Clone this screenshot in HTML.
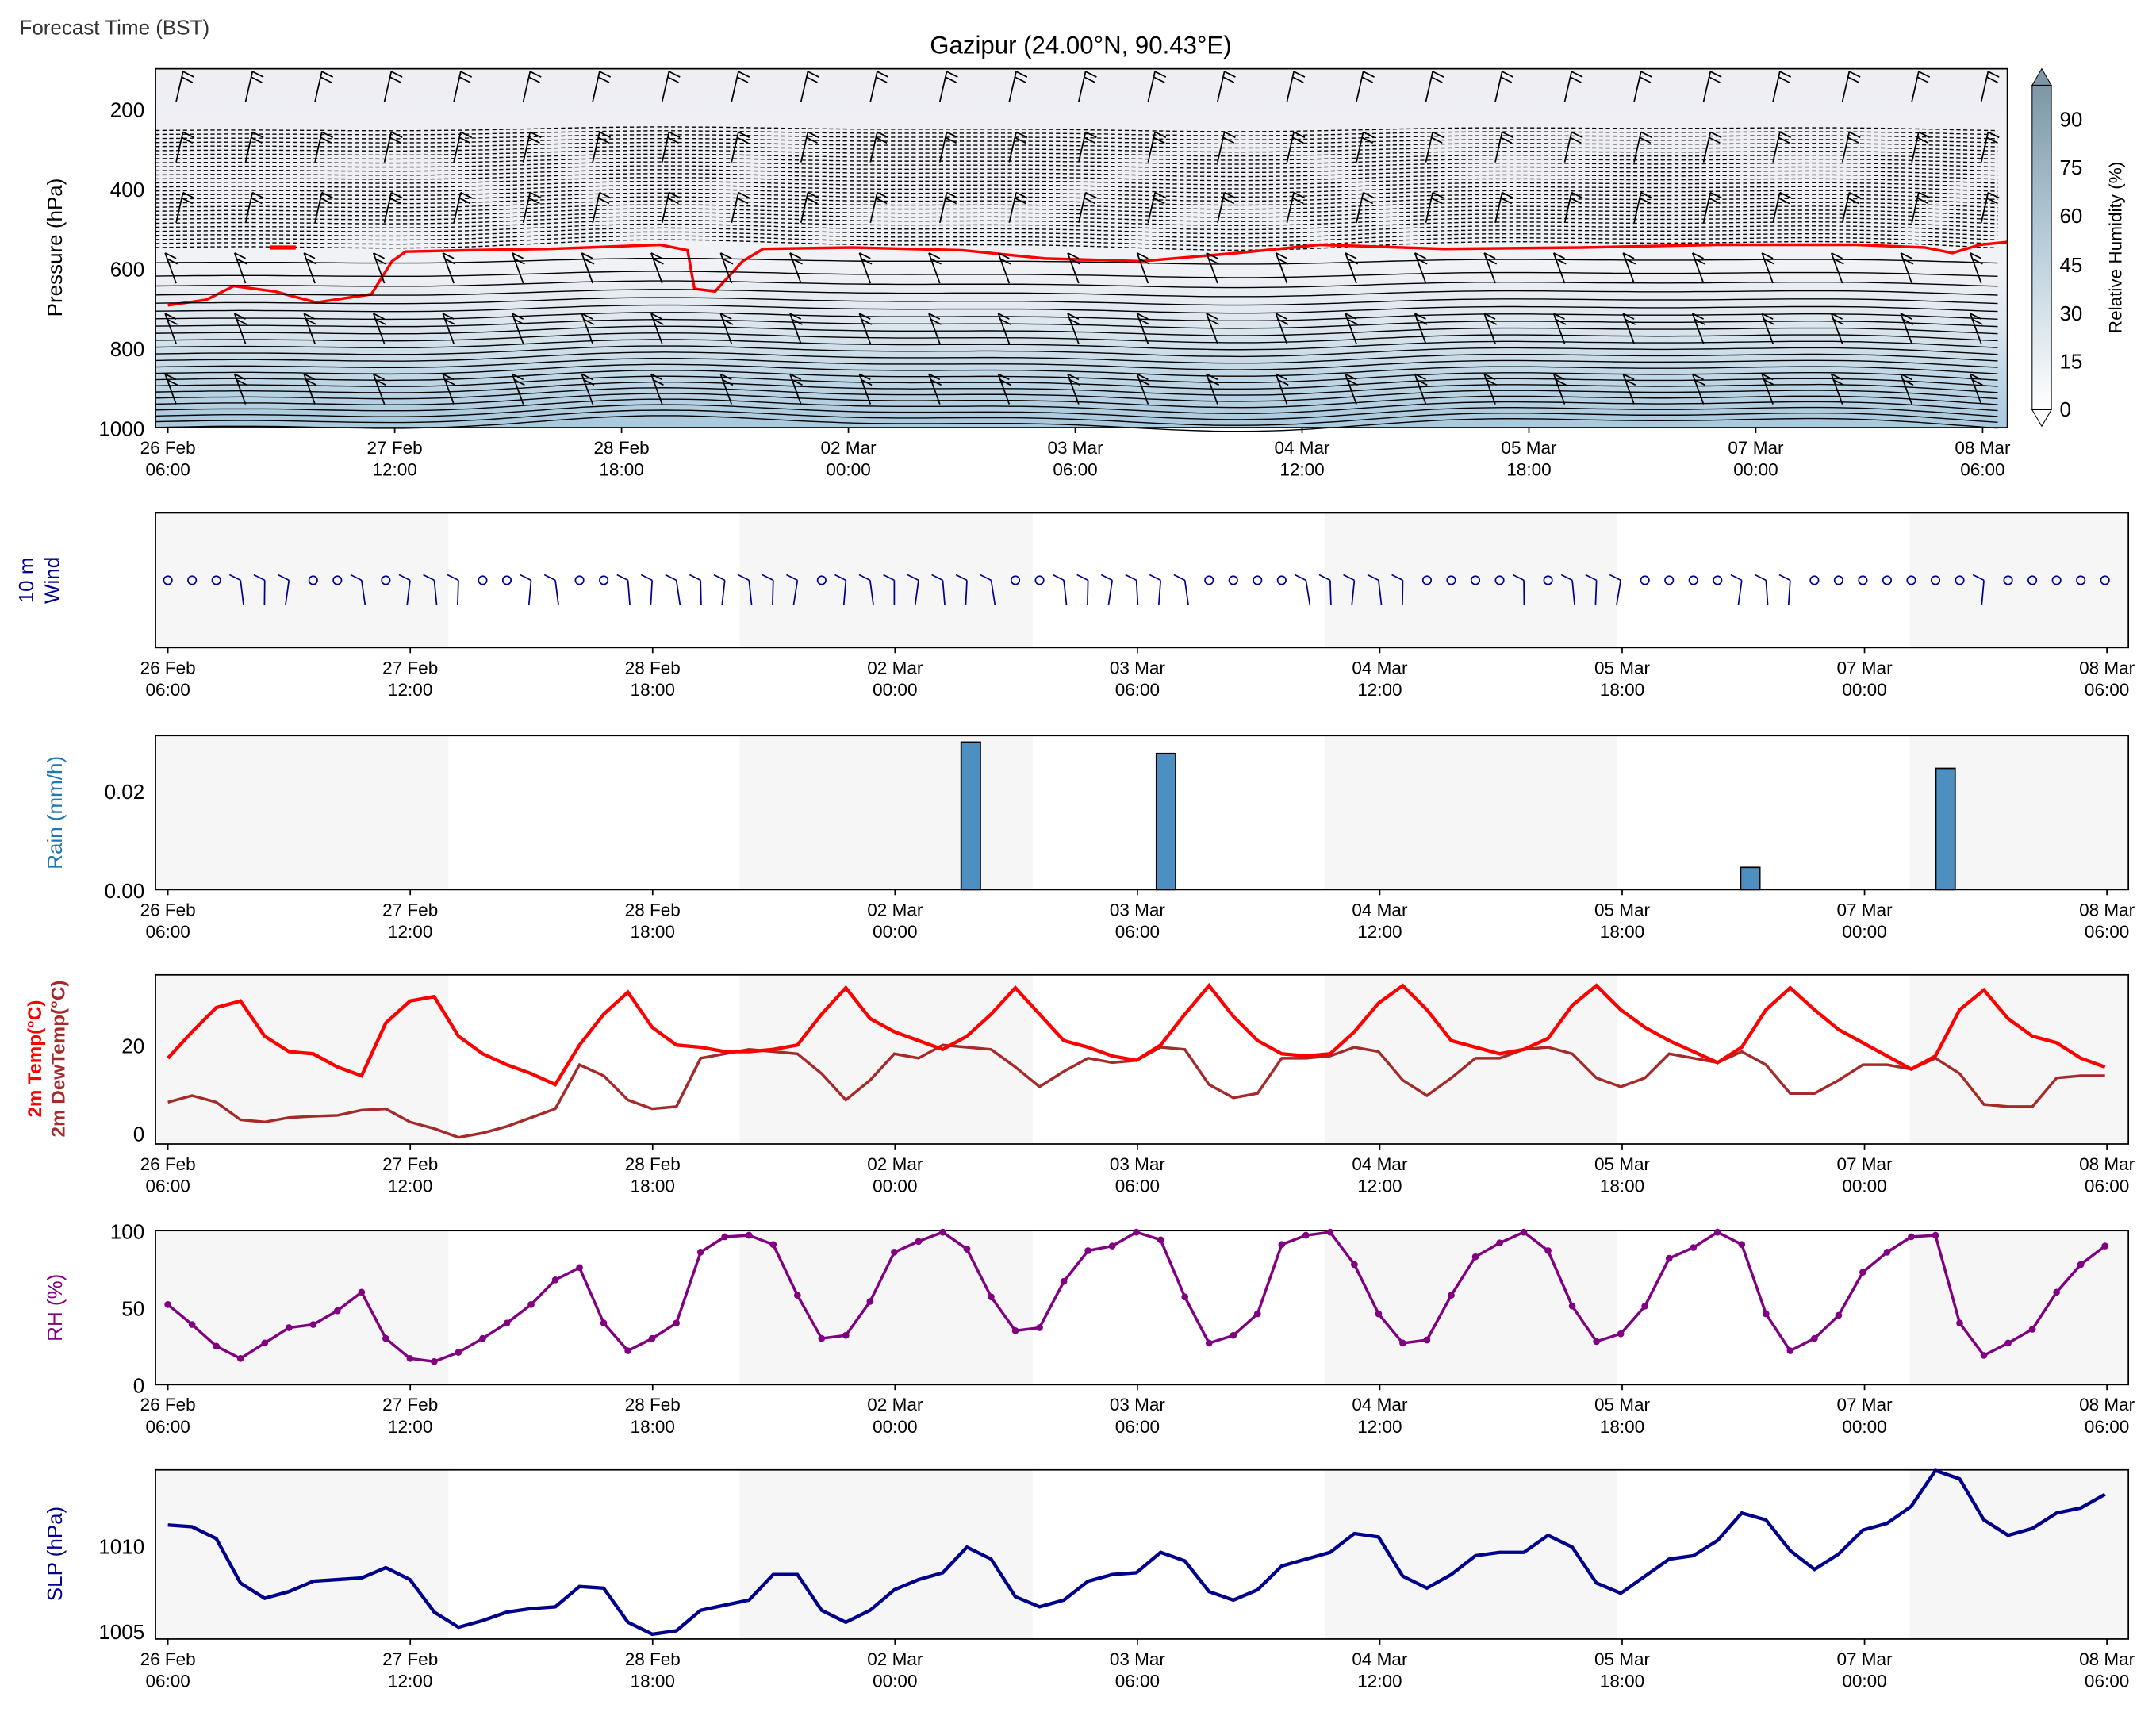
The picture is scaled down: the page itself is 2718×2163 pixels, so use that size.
<!DOCTYPE html>
<html><head><meta charset="utf-8"><style>
html,body{margin:0;padding:0;background:#fff}
svg{display:block}
text{font-family:"Liberation Sans","DejaVu Sans",sans-serif}
</style></head><body>
<svg id="s" width="2718" height="2163" viewBox="0 0 1568 1248" xmlns="http://www.w3.org/2000/svg">
<defs>
<linearGradient id="cb" x1="0" y1="1" x2="0" y2="0"><stop offset="0" stop-color="#ffffff"/><stop offset="0.5" stop-color="#b9cfdc"/><stop offset="1" stop-color="#7d97a8"/></linearGradient>
<linearGradient id="bg1" x1="0" y1="0" x2="0" y2="1"><stop offset="0" stop-color="#eeeef3"/><stop offset="0.55" stop-color="#f1f2f6"/><stop offset="0.7" stop-color="#dfe8ef"/><stop offset="0.85" stop-color="#c2d8e6"/><stop offset="1" stop-color="#a9c9de"/></linearGradient>
</defs>
<text x="14" y="25" font-size="15" fill="#333">Forecast Time (BST)</text>
<text x="786" y="39" font-size="18" text-anchor="middle">Gazipur (24.00°N, 90.43°E)</text>
<rect x="113" y="50" width="1347" height="261" fill="url(#bg1)"/>
<g id="topg"></g>
<rect x="113" y="50" width="1347" height="261" fill="none" stroke="#000"/>
<g font-size="15" text-anchor="end">
<text x="105" y="85">200</text><text x="105" y="143">400</text><text x="105" y="201">600</text><text x="105" y="259">800</text><text x="105" y="317">1000</text>
</g>
<text transform="translate(45,180) rotate(-90)" font-size="15" text-anchor="middle">Pressure (hPa)</text>
<rect x="1478" y="62" width="14" height="236" fill="url(#cb)" stroke="#000" stroke-width="0.6"/>
<path d="M1478,62 L1485,50 L1492,62 Z" fill="#7d97a8" stroke="#000" stroke-width="0.6"/>
<path d="M1478,298 L1485,310 L1492,298 Z" fill="#fff" stroke="#000" stroke-width="0.6"/>
<g font-size="15">
<text x="1498" y="303">0</text><text x="1498" y="268">15</text><text x="1498" y="233">30</text><text x="1498" y="198">45</text><text x="1498" y="162">60</text><text x="1498" y="127">75</text><text x="1498" y="92">90</text>
</g>
<text transform="translate(1543,180) rotate(-90)" font-size="13" text-anchor="middle">Relative Humidity (%)</text>
<g id="xt1" font-size="13" text-anchor="middle"></g>

<g id="panels"></g>
<g font-size="15" text-anchor="end">
<text x="105" y="581">0.02</text><text x="105" y="653">0.00</text>
<text x="105" y="766">20</text><text x="105" y="830">0</text>
<text x="105" y="901">100</text><text x="105" y="957">50</text><text x="105" y="1013">0</text>
<text x="105" y="1130">1010</text><text x="105" y="1192">1005</text>
</g>
<text transform="translate(24,422) rotate(-90)" font-size="15" text-anchor="middle" fill="#00008b">10 m</text>
<text transform="translate(43,422) rotate(-90)" font-size="15" text-anchor="middle" fill="#00008b">Wind</text>
<text transform="translate(45,591) rotate(-90)" font-size="15" text-anchor="middle" fill="#1f77b4">Rain (mm/h)</text>
<text transform="translate(30,770) rotate(-90)" font-size="14" font-weight="bold" text-anchor="middle" fill="red">2m Temp(°C)</text>
<text transform="translate(47,770) rotate(-90)" font-size="14" font-weight="bold" text-anchor="middle" fill="#a52a2a">2m DewTemp(°C)</text>
<text transform="translate(45,951) rotate(-90)" font-size="15" text-anchor="middle" fill="purple">RH (%)</text>
<text transform="translate(45,1130) rotate(-90)" font-size="15" text-anchor="middle" fill="#00008b">SLP (hPa)</text>
</svg>
<script>
(function(){
var NS="http://www.w3.org/2000/svg";
function el(p,t,a){var e=document.createElementNS(NS,t);for(var k in a)e.setAttribute(k,a[k]);p.appendChild(e);return e;}
var tg=document.getElementById('topg');
function wav(y,amp){var d="";for(var x=113;x<=1460;x+=10){var yy=y+amp*(Math.sin(x/110)+0.5*Math.sin(x/47+1));d+=(x==113?"M":"L")+x+","+yy.toFixed(1);}return d;}
for(var i=0;i<30;i++){var y=94+i*2.9;el(tg,'path',{d:wav(y,1.2+i*0.05),fill:'none',stroke:'#000','stroke-width':0.8,'stroke-dasharray':'3,2'});}
el(tg,'path',{d:"M122,222 L150,218 L170,208 L200,212 L230,220 L270,214 L285,190 L295,183 L340,182 L400,181 L480,178 L500,182 L505,210 L520,212 L540,190 L555,181 L620,180 L700,182 L760,188 L830,190 L900,184 L960,178 L1050,181 L1150,180 L1250,178 L1350,178 L1400,180 L1420,184 L1440,178 L1460,176",fill:'none',stroke:'red','stroke-width':2});
el(tg,'path',{d:"M196,180 L215,180",stroke:'red','stroke-width':3});
for(var i=0;i<24;i++){var f=i/23;var y=190+Math.pow(f,0.8)*118;el(tg,'path',{d:wav(y,1.5+f*2.5),fill:'none',stroke:'#000','stroke-width':0.8});}
for(var c=0;c<27;c++){var x=128+c*50.5;for(var r=0;r<6;r++){var y=50+r*44;var g=el(tg,'g',{stroke:'#000','stroke-width':1,fill:'none'});
var dx=(r<3?5:-8);
el(g,'path',{d:"M"+x+","+(y+24)+" l"+dx+",-22"});el(g,'path',{d:"M"+(x+dx)+","+(y+2)+" l8,4 M"+(x+dx+(r<3?-1:1))+","+(y+6)+" l8,4"});}}
var xt1=document.getElementById('xt1');
var lb=[["26 Feb","06:00"],["27 Feb","12:00"],["28 Feb","18:00"],["02 Mar","00:00"],["03 Mar","06:00"],["04 Mar","12:00"],["05 Mar","18:00"],["07 Mar","00:00"],["08 Mar","06:00"]];
for(var i=0;i<9;i++){var x=122+i*165;el(xt1,'line',{x1:x,y1:311,x2:x,y2:315,stroke:'#000'});var t=el(xt1,'text',{x:x,y:330});t.textContent=lb[i][0];t=el(xt1,'text',{x:x,y:346});t.textContent=lb[i][1];}
var P=document.getElementById('panels');
var panels=[[373,471],[535,647],[709,832],[895,1007],[1069,1192]];
panels.forEach(function(p){
 el(P,'rect',{x:113,y:p[0],width:1435,height:p[1]-p[0],fill:'#fff'});
 [[113,326],[538,751],[964,1176],[1389,1548]].forEach(function(b){el(P,'rect',{x:b[0],y:p[0],width:b[1]-b[0],height:p[1]-p[0],fill:'#f6f6f6'});});
 el(P,'rect',{x:113,y:p[0],width:1435,height:p[1]-p[0],fill:'none',stroke:'#000'});
 for(var i=0;i<9;i++){var x=122+i*176.3;el(P,'line',{x1:x,y1:p[1],x2:x,y2:p[1]+4,stroke:'#000'});
 var t=el(P,'text',{x:x,y:p[1]+19,'font-size':13,'text-anchor':'middle'});t.textContent=lb[i][0];t=el(P,'text',{x:x,y:p[1]+35,'font-size':13,'text-anchor':'middle'});t.textContent=lb[i][1];}
});
function X(i){return 122+i*1409/80;}
function line(arr,fy,col,w,dots){var d="";arr.forEach(function(v,i){d+=(i?"L":"M")+X(i).toFixed(1)+","+fy(v).toFixed(1);});el(P,'path',{d:d,fill:'none',stroke:col,'stroke-width':w});if(dots)arr.forEach(function(v,i){el(P,'circle',{cx:X(i),cy:fy(v),r:2.5,fill:col});});}
var T=[17,23,28.5,30,22,18.5,18,15,13,25,30,31,22,18,15.5,13.5,11,20,27,32,24,20,19.5,18.5,18.5,19,20,27,33,26,23,21,19,22,27,33,27,21,19.5,17.5,16.5,20,27,33.5,26.5,21,18,17.5,18,23,29.5,33.5,28,21,19.5,18,19,21.5,29,33.5,28,24,21,18.5,16,19.5,28,33,28,23.5,20.5,17.5,14.5,17.5,28,32.5,26,22,20.5,17,15];
var D=[7,8.5,7,3,2.5,3.5,3.8,4,5.2,5.5,2.5,1,-1,0,1.5,3.5,5.5,15.5,13,7.5,5.5,6,17,18,19,18.5,18,13.5,7.5,12,18,17,20,19.5,19,15,10.5,14,17,16,16.5,19.5,19,11,8,9,17,17,17.5,19.5,18.5,12,8.5,12.5,17,17,19,19.5,18,12.5,10.5,12.5,18,17,16,18.5,15.5,9,9,12,15.5,15.5,14.5,17,13.5,6.5,6,6,12.5,13,13];
var RH=[52,39,25,17,27,37,39,48,60,30,17,15,21,30,40,52,68,76,40,22,30,40,86,96,97,91,58,30,32,54,86,93,99,88,57,35,37,67,87,90,99,94,57,27,32,46,91,97,99,78,46,27,29,58,83,92,99,87,51,28,33,51,82,89,99,91,46,22,30,45,73,86,96,97,40,19,27,36,60,78,90];
var SL=[1011.2,1011.1,1010.4,1007.8,1006.9,1007.3,1007.9,1008,1008.1,1008.7,1008.0,1006.1,1005.2,1005.6,1006.1,1006.3,1006.4,1007.6,1007.5,1005.5,1004.8,1005,1006.2,1006.5,1006.8,1008.3,1008.3,1006.2,1005.5,1006.2,1007.4,1008,1008.4,1009.9,1009.2,1007,1006.4,1006.8,1007.9,1008.3,1008.4,1009.6,1009.1,1007.3,1006.8,1007.4,1008.8,1009.2,1009.6,1010.7,1010.5,1008.2,1007.5,1008.3,1009.4,1009.6,1009.6,1010.6,1009.9,1007.8,1007.2,1008.2,1009.2,1009.4,1010.3,1011.9,1011.5,1009.7,1008.6,1009.5,1010.9,1011.3,1012.3,1014.4,1013.9,1011.5,1010.6,1011,1011.9,1012.2,1013];
line(D,function(v){return 824-v*3.2},'#a52a2a',2);
line(T,function(v){return 824-v*3.2},'red',2.5);
line(RH,function(v){return 1007-v*1.12},'purple',2,true);
line(SL,function(v){return 1124-(v-1010)*12.4},'#00008b',2.5);
[[706,0.0298],[848,0.0275],[1273,0.0045],[1415,0.0245]].forEach(function(b){var h=b[1]*3600;el(P,'rect',{x:b[0]-7,y:647-h,width:14,height:h,fill:'#4c8fc0',stroke:'#000','stroke-width':1});});
var calmL=[0,1,2,6,7,9,13,14,17,18,27,35,36,43,44,45,46,52,53,54,55,57,61,62,63,64,68,69,70,71,72,73,74,76,77,78,79,80];
for(var i=0;i<81;i++){var x=X(i);
 if(calmL.indexOf(i)>=0)el(P,'circle',{cx:x,cy:422,r:3,fill:'none',stroke:'#00008b','stroke-width':1});
 else{var a=(i*37)%60-30;el(P,'path',{d:"M"+x+",422 l"+(6*Math.sin(a/57)).toFixed(1)+",18 M"+x+",422 l-8,-4",stroke:'#00008b','stroke-width':1,fill:'none'});}}
})();
</script>
</body></html>
